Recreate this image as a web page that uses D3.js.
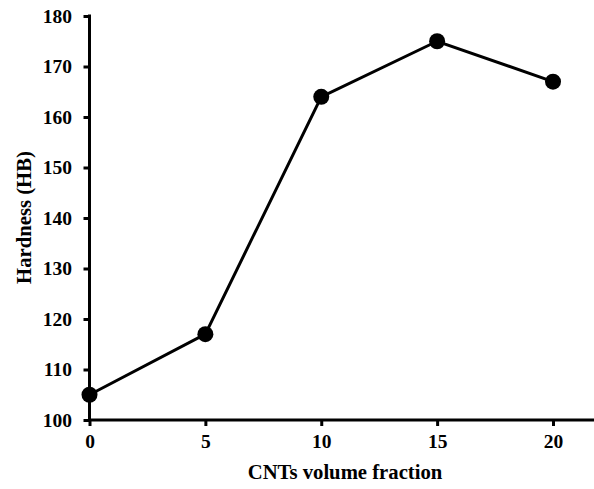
<!DOCTYPE html>
<html>
<head>
<meta charset="utf-8">
<script src="https://cdn.jsdelivr.net/npm/d3@7"></script>
<style>
  html, body { margin: 0; padding: 0; background: #fff; }
  svg { display: block; }
  text { font-family: "Liberation Serif", "Times New Roman", serif; font-weight: bold; fill: #000; }
</style>
</head>
<body>
<svg id="chart" width="594" height="489"></svg>
<script>
// CNT content vs. Brinell hardness
const fractions = [0, 5, 10, 15, 20];
const hardness = [105, 117, 164, 175, 167];
const xTicks = [0, 5, 10, 15, 20];
const yTicks = [100, 110, 120, 130, 140, 150, 160, 170, 180];

const svg = d3.select("#chart");
const plotLeft = 89.5, plotTop = 16, plotBottom = 420, plotRight = 594;

const x = d3.scaleLinear().domain([0, 20]).range([plotLeft, 553]);
const y = d3.scaleLinear().domain([100, 180]).range([plotBottom, plotTop]);

// x axis
const gx = svg.append("g").attr("transform", `translate(0,${plotBottom})`)
  .call(d3.axisBottom(x).tickValues(xTicks).tickSize(6).tickSizeOuter(0).tickPadding(8));
gx.select(".domain").remove();
gx.append("line").attr("x1", plotLeft - 1.5).attr("x2", plotRight).attr("stroke", "#000").attr("stroke-width", 3);
gx.selectAll(".tick line").attr("stroke", "#000").attr("stroke-width", 3);
gx.selectAll(".tick text").attr("font-size", 19.5).attr("font-family", null).attr("dy", "0.71em");

// y axis
const gy = svg.append("g").attr("transform", `translate(${plotLeft},0)`)
  .call(d3.axisLeft(y).tickValues(yTicks).tickSize(6).tickSizeOuter(0).tickPadding(11.5));
gy.select(".domain").remove();
gy.append("line").attr("y1", plotTop - 1.5).attr("y2", plotBottom).attr("stroke", "#000").attr("stroke-width", 3);
gy.selectAll(".tick line").attr("stroke", "#000").attr("stroke-width", 3);
gy.selectAll(".tick text").attr("font-size", 19.5).attr("font-family", null);

// data line and markers
const pts = fractions.map((f, i) => [f, hardness[i]]);
svg.append("path").datum(pts)
  .attr("fill", "none").attr("stroke", "#000").attr("stroke-width", 3)
  .attr("d", d3.line().x(d => x(d[0])).y(d => y(d[1])));
svg.selectAll("circle.pt").data(pts).enter().append("circle")
  .attr("class", "pt").attr("cx", d => x(d[0])).attr("cy", d => y(d[1])).attr("r", 8).attr("fill", "#000");

// axis titles
svg.append("text").attr("x", 345).attr("y", 479).attr("text-anchor", "middle")
  .attr("font-size", 20.7).text("CNTs volume fraction");
svg.append("text").attr("transform", `translate(31,217.5) rotate(-90)`)
  .attr("text-anchor", "middle").attr("font-size", 20.7).text("Hardness (HB)");
</script>
</body>
</html>
